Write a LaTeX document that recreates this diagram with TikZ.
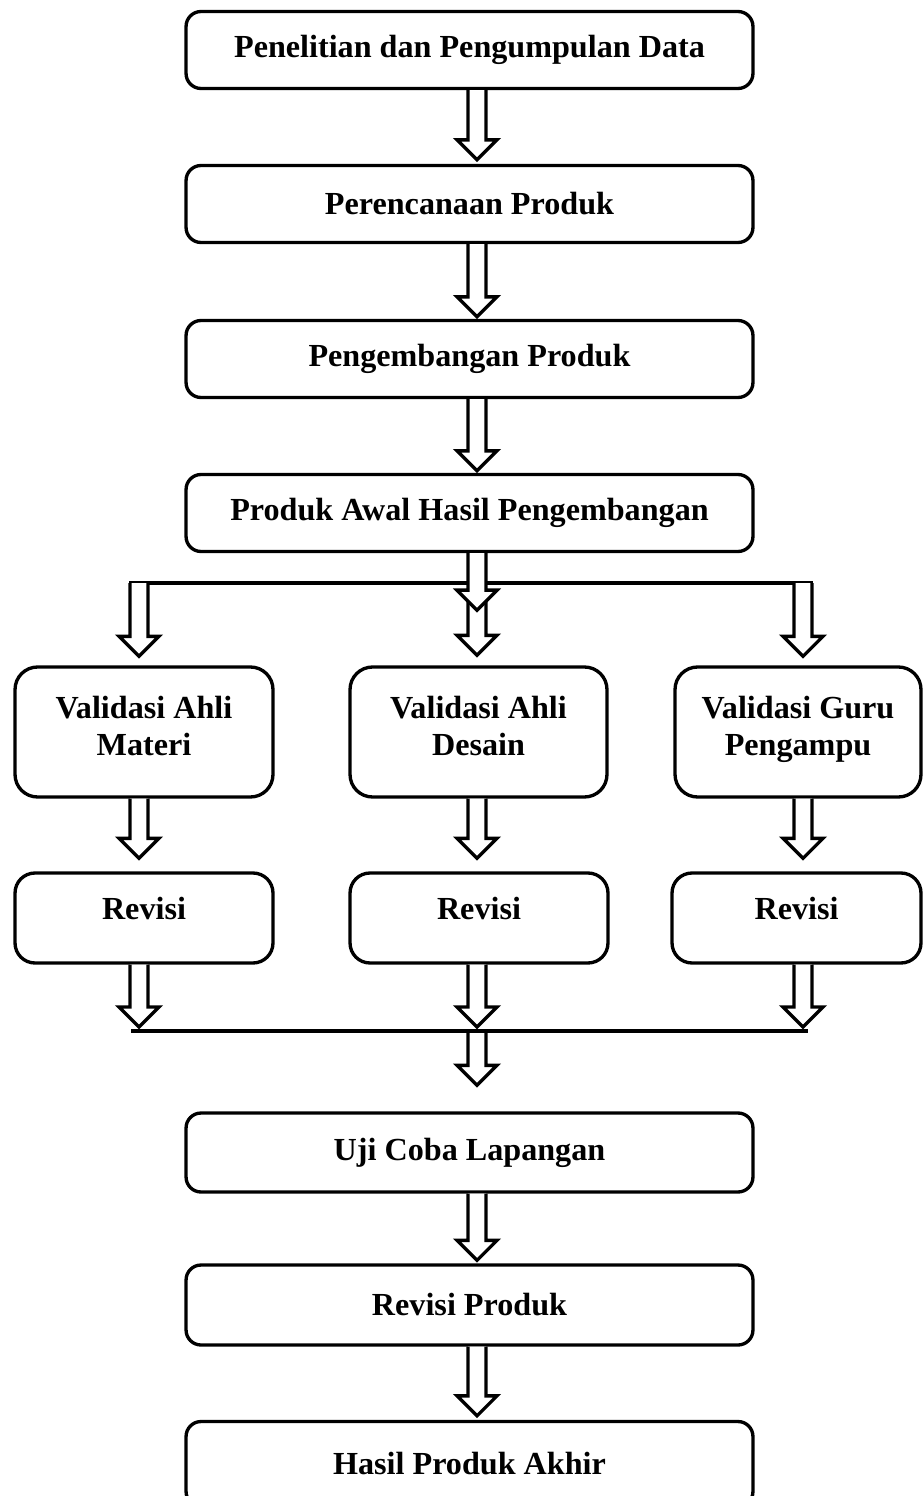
\documentclass[tikz,border=0pt]{standalone}
\usepackage{fontspec}
\setmainfont{Liberation Serif}
\usepackage{tikz}
\usetikzlibrary{calc}
\tikzset{
  stagebox/.style={
    rectangle, rounded corners=0.3cm, draw=black, line width=1.9pt,
    minimum width=11.34cm, minimum height=1.54cm,
    font=\bfseries\fontsize{18.3}{21.5}\selectfont, align=center,
    inner sep=2pt
  },
  valbox/.style={
    stagebox, rounded corners=0.45cm, minimum width=#1, minimum height=2.6cm,
    text depth=0.25cm
  },
  valbox/.default=5.16cm,
  revbox/.style={
    stagebox, rounded corners=0.4cm, minimum width=#1, minimum height=1.8cm,
    text depth=0.4cm
  },
  revbox/.default=5.16cm,
  hollow/.style={draw=black, fill=white, line width=1.9pt, line join=miter},
  busline/.style={draw=black, line width=1.9pt},
}
% hollow block arrow: start point, tip point
\newcommand{\fatarrow}[2]{%
  \filldraw[hollow] ($#1+(-9,0)$) -- ($#2+(-9,-20)$) -- ($#2+(-20,-20)$)
    -- #2 -- ($#2+(20,-20)$) -- ($#2+(9,-20)$) -- ($#1+(9,0)$);
}

\begin{document}
\begin{tikzpicture}[x=0.02cm, y=-0.02cm]
  \useasboundingbox (0,0) rectangle (923,1496);
  \coordinate (cl) at (139,0);
  \coordinate (cm) at (477,0);
  \coordinate (cr) at (803,0);

  \node[stagebox] (b1) at (469.5,50) {Penelitian dan Pengumpulan Data};
  \node[stagebox] (b2) at (469.5,204) {Perencanaan Produk};
  \node[stagebox] (b3) at (469.5,359) {Pengembangan Produk};
  \node[stagebox] (b4) at (469.5,513) {Produk Awal Hasil Pengembangan};

  \node[valbox] (v1) at (144,732) {Validasi Ahli\\Materi};
  \node[valbox=5.14cm] (v2) at (478.5,732) {Validasi Ahli\\Desain};
  \node[valbox=4.92cm] (v3) at (798,732) {Validasi Guru\\Pengampu};

  \node[revbox] (r1) at (144,918) {Revisi};
  \node[revbox] (r2) at (479,918) {Revisi};
  \node[revbox=4.98cm] (r3) at (796.5,918) {Revisi};

  \node[stagebox, minimum height=1.58cm] (uji) at (469.5,1152.5) {Uji Coba Lapangan};
  \node[stagebox, minimum height=1.6cm] (rp) at (469.5,1305) {Revisi Produk};
  \node[stagebox, minimum height=1.7cm] (hp) at (469.5,1464) {Hasil Produk Akhir};

  \coordinate (splitL) at (129,583);
  \coordinate (splitR) at (813,583);
  \coordinate (joinL) at (131,1031);
  \coordinate (joinR) at (808,1031);
  \draw[busline] (splitL) -- (splitR);

  \fatarrow{(b1.south -| cm)}{($(b2.north -| cm)+(0,-4)$)}
  \fatarrow{(b2.south -| cm)}{($(b3.north -| cm)+(0,-2)$)}
  \fatarrow{(b3.south -| cm)}{($(b4.north -| cm)+(0,-2)$)}
  \fatarrow{(splitL -| cl)}{($(v1.north -| cl)+(0,-9)$)}
  \fatarrow{(splitR -| cr)}{($(v3.north -| cr)+(0,-9)$)}
  \fatarrow{($(b4.south -| cm)+(0,47)$)}{($(v2.north -| cm)+(0,-10)$)}
  \fatarrow{(b4.south -| cm)}{($(b4.south -| cm)+(0,57)$)}

  \foreach \v/\r/\c in {v1/r1/cl, v2/r2/cm, v3/r3/cr}
    {\fatarrow{(\v.south -| \c)}{($(\r.north -| \c)+(0,-13)$)}}

  \fatarrow{(joinL -| cm)}{($(uji.north -| cm)+(0,-26)$)}
  \draw[busline] (joinL) -- (joinR);
  \foreach \r/\c in {r1/cl, r2/cm, r3/cr}
    {\fatarrow{(\r.south -| \c)}{($(joinL -| \c)+(0,-4)$)}}

  \fatarrow{(uji.south -| cm)}{($(rp.north -| cm)+(0,-3)$)}
  \fatarrow{(rp.south -| cm)}{($(hp.north -| cm)+(0,-4)$)}
\end{tikzpicture}
\end{document}
